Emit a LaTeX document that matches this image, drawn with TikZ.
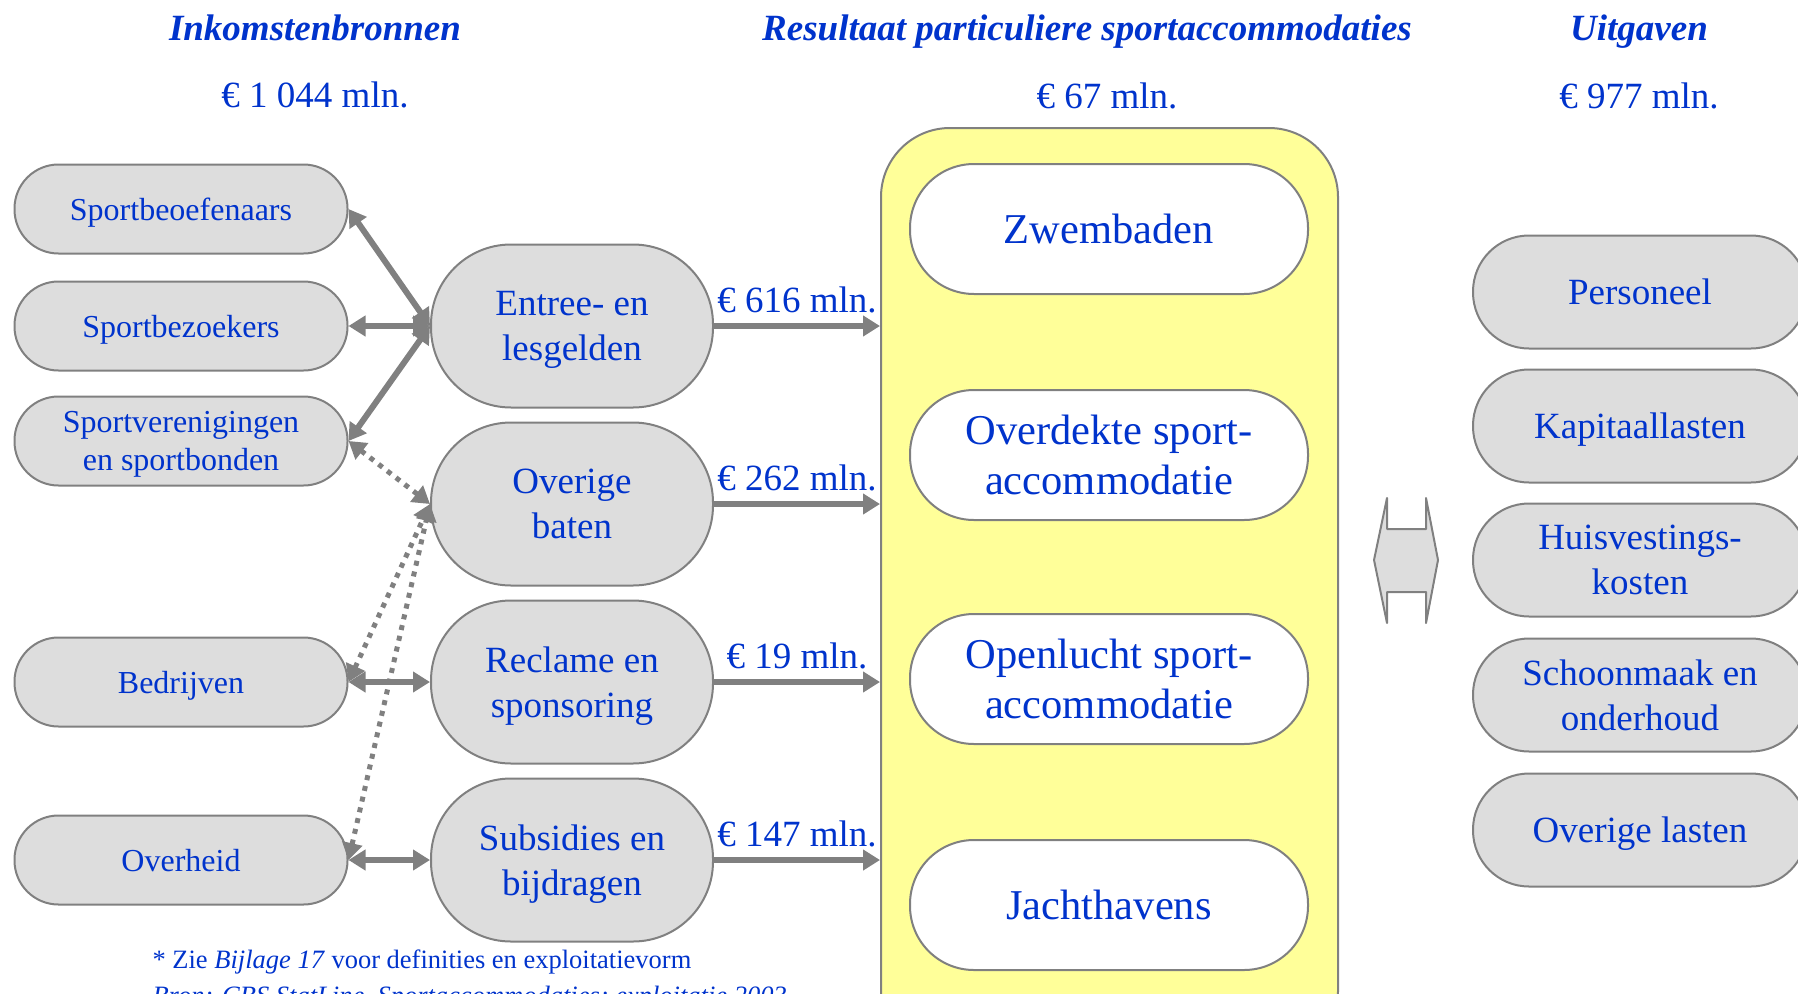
\documentclass[tikz,border=0pt]{standalone}
\usepackage{fontspec}
\setmainfont{Liberation Serif}
\usetikzlibrary{arrows.meta,positioning}
\definecolor{txtblue}{RGB}{0,51,204}
\definecolor{boxgray}{RGB}{221,221,221}
\definecolor{linegray}{RGB}{128,128,128}
\definecolor{accyellow}{RGB}{255,255,153}
\tikzset{
	txt/.style={text=txtblue, align=center},
	pill/.style={txt, draw=linegray, line width=2pt, fill=boxgray},
	srcbox/.style={pill, text depth=0pt, minimum width=333pt, minimum height=89pt, rounded corners=44pt, font=\fontsize{32}{38}\selectfont},
	kindbox/.style={pill, text depth=0pt, minimum width=282pt, minimum height=163pt, rounded corners=80pt, font=\fontsize{37}{44.8}\selectfont},
	costbox/.style={pill, text depth=0pt, minimum width=334pt, minimum height=113pt, rounded corners=56pt, font=\fontsize{37}{45}\selectfont},
	accbox/.style={pill, fill=white, minimum width=398pt, minimum height=130pt, rounded corners=64pt, font=\fontsize{42.5}{50.5}\selectfont},
	tip/.tip={Triangle[length=17pt,width=20pt]},
	flow/.style={draw=linegray, line width=6pt, -tip},
	twoway/.style={flow, tip-tip},
	dotway/.style={twoway, line width=5pt, dash pattern=on 5pt off 6pt}
}
\begin{document}
\begin{tikzpicture}[x=1pt, y=-1pt, line join=round]
	\def\big{\fontsize{37}{44}\selectfont}
	\useasboundingbox (0,0) rectangle (1798,993);
	
	\node[txt, font=\bfseries\itshape\big, anchor=base] (inhead) at (315,40) {Inkomstenbronnen};
	\node[txt, font=\big, anchor=base] (insum) at (315,107) {€ 1 044 mln.};
	\node[txt, font=\bfseries\itshape\big, anchor=base] (reshead) at (1087,40) {Resultaat particuliere sportaccommodaties};
	\node[txt, font=\big, anchor=base] (ressum) at (1107,108) {€ 67 mln.};
	\node[txt, font=\bfseries\itshape\big, anchor=base] (uithead) at (1639,40) {Uitgaven};
	\node[txt, font=\big, anchor=base] (uitsum) at (1639,108) {€ 977 mln.};
	
	\foreach \name/\y/\label in {beo/209/Sportbeoefenaars, bez/326/Sportbezoekers, ver/441/{Sportverenigingen\\en sportbonden}, bed/682/Bedrijven, ovh/860/Overheid}
	\node[srcbox] (\name) at (181,\y) {\label};
	
	\foreach \name/\y/\label in {ent/326/{Entree- en\\lesgelden}, ovb/504/{Overige\\baten}, rec/682/{Reclame en\\sponsoring}, sub/860/{Subsidies en\\bijdragen}}
	\node[kindbox] (\name) at (572,\y) {\label};
	
	\node[draw=linegray, line width=2pt, fill=accyellow, rounded corners=69pt, minimum width=457pt, minimum height=932pt] (acc) at (1109.5,594) {};
	\foreach \name/\y/\label in {zwe/229/Zwembaden, ovd/455/{Overdekte sport-\\accommodatie}, opl/679/{Openlucht sport-\\accommodatie}, jac/905/Jachthavens}
	\node[accbox] (\name) at (1109,\y) {\label};
	
	\foreach \name/\y/\label in {per/292/Personeel, kap/426/Kapitaallasten, hui/560/{Huisvestings-\\kosten}, sch/695/{Schoonmaak en\\onderhoud}, ovl/830/{Overige lasten}}
	\node[costbox] (\name) at (1640,\y) {\label};
	
	\foreach \a/\b in {ent/beo, ent/bez, ent/ver, rec/bed, sub/ovh}
	\draw[twoway] (\b.east) -- (\a.west);
	\foreach \b in {ver, bed, ovh}
	\draw[dotway] (\b.east) -- (ovb.west);
	\foreach \a/\amt in {ent/616, ovb/262, rec/19, sub/147}
	\draw[flow] (\a.east) -- (\a.east -| acc.west) node[txt, font=\big, midway, anchor=base, yshift=14pt] (amt-\a) {€ \amt\ mln.};
	
	\draw[draw=linegray, line width=2pt, fill=boxgray] (1374,560) -- (1387,498) -- (1387,529) -- (1426,529) -- (1426,498) -- (1438,560) -- (1426,623) -- (1426,592) -- (1387,592) -- (1387,623) -- cycle;
	
	\node[txt, anchor=base west, font=\fontsize{26.5}{32}\selectfont] (note) at (149,968) {* Zie \textit{Bijlage 17} voor definities en exploitatievorm};
	\node[txt, anchor=base west, font=\itshape\fontsize{26.5}{32}\selectfont] (bron) at (149,1004) {Bron: CBS StatLine, Sportaccommodaties; exploitatie 2003};
\end{tikzpicture}
\end{document}
